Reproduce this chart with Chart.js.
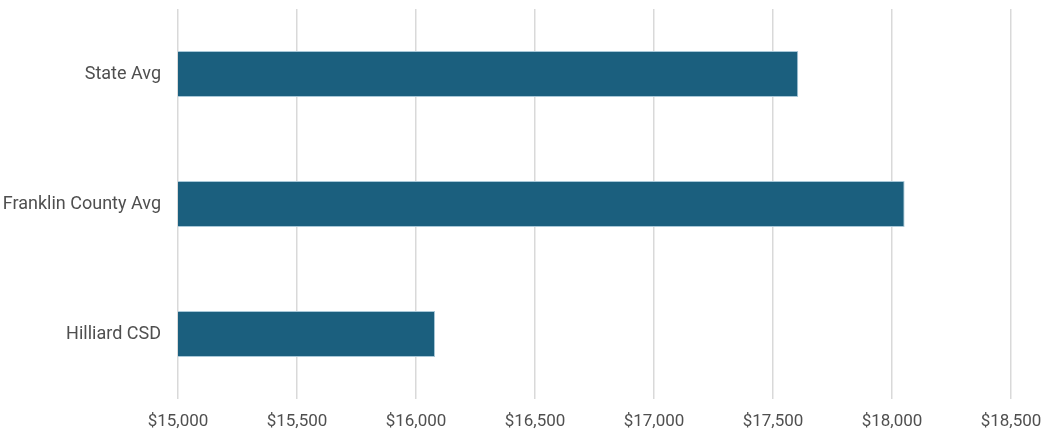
<!DOCTYPE html>
<html>
<head>
<meta charset="utf-8">
<script src="https://cdn.jsdelivr.net/npm/chart.js@4/dist/chart.umd.min.js"></script>
<style>
  html, body { margin: 0; padding: 0; background: #fff; }
  #wrap { width: 1050px; height: 438px; }
</style>
</head>
<body>
<div id="wrap"><canvas id="spendChart"></canvas></div>
<script>
// data
const categories = ["State Avg", "Franklin County Avg", "Hilliard CSD"];
const spending = [17606, 18053, 16080];
const xMin = 15000;
const xMax = 18500;
const xStep = 500;

const textColor = "#4f4f4f";
const fontFamily = "Roboto, 'Open Sans', sans-serif";

const chart = new Chart("spendChart", {
  type: "bar",
  data: {
    labels: categories,
    datasets: [
      {
        data: spending,
        backgroundColor: "#1b5f7e",
        borderColor: "#a9c8d8",
        borderWidth: 1,
        borderSkipped: "left",
        barPercentage: 0.354,
        categoryPercentage: 1.0,
      },
    ],
  },
  options: {
    indexAxis: "y",
    responsive: true,
    maintainAspectRatio: false,
    animation: false,
    layout: {
      padding: { top: 9, right: 39, bottom: 0, left: 0 },
    },
    plugins: {
      legend: { display: false },
      tooltip: { enabled: false },
    },
    scales: {
      x: {
        min: xMin,
        max: xMax,
        ticks: {
          stepSize: xStep,
          padding: 13,
          color: textColor,
          font: { family: fontFamily, size: 17 },
          callback: (v) => "$" + v.toLocaleString("en-US"),
        },
        grid: { color: "#d9d9d9", lineWidth: 1.5, drawTicks: false },
        border: { display: false },
        afterFit: (scale) => {
          scale.height = 39;
          scale.paddingLeft = 0;
          scale.paddingRight = 0;
        },
      },
      y: {
        ticks: {
          padding: 17,
          color: textColor,
          font: { family: fontFamily, size: 18 },
        },
        grid: { display: false, drawTicks: false },
        border: { display: false },
        afterFit: (scale) => {
          scale.width = 178;
          // labels sit at band centres, no extra room needed above/below
          scale.paddingTop = 0;
          scale.paddingBottom = 0;
        },
      },
    },
  },
});
</script>
</body>
</html>
